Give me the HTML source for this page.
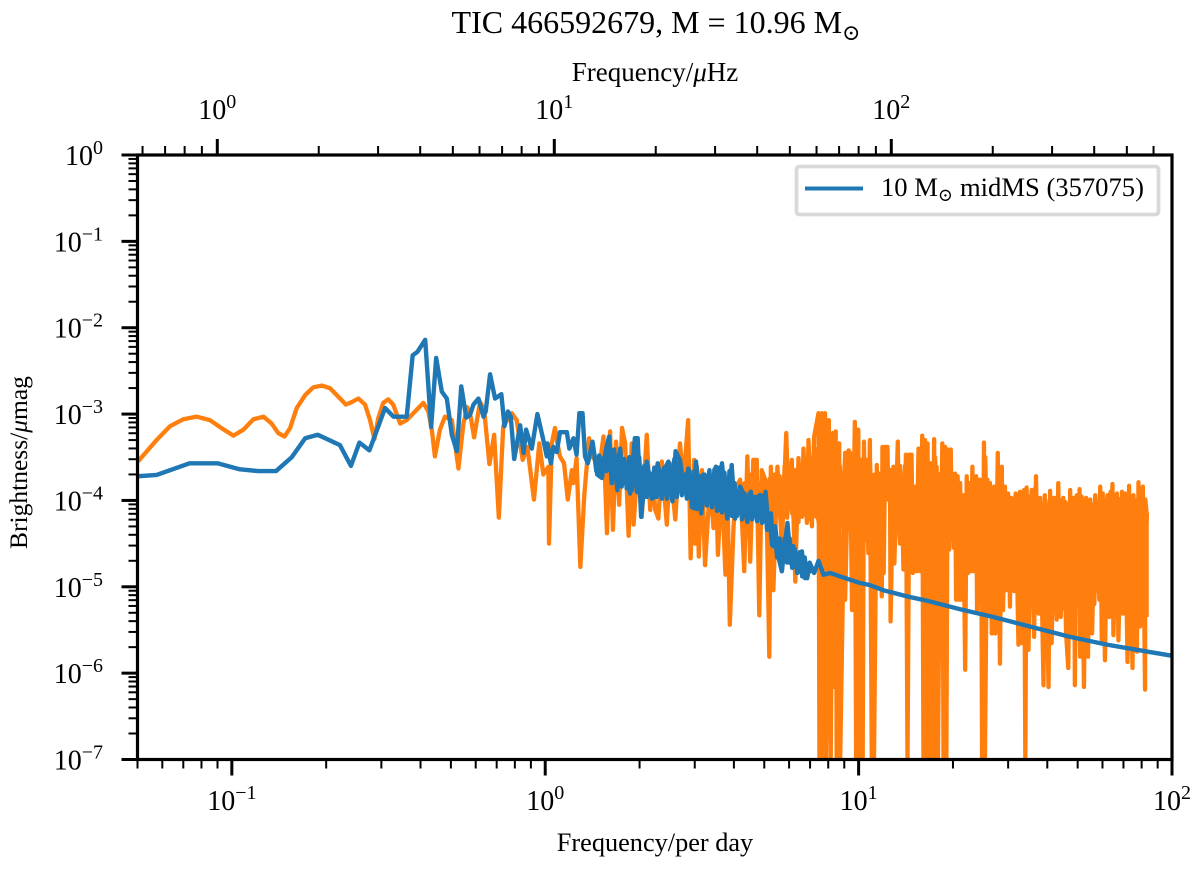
<!DOCTYPE html>
<html>
<head>
<meta charset="utf-8">
<title>TIC 466592679 spectrum</title>
<style>
html,body{margin:0;padding:0;background:#fff;}
svg{display:block;}
text{font-family:"Liberation Serif","DejaVu Serif",serif;fill:#000;}
</style>
</head>
<body>
<svg id="chart" width="1200" height="873" viewBox="0 0 1200 873" xmlns="http://www.w3.org/2000/svg">
  <defs><clipPath id="plot-clip"><rect x="137.5" y="155" width="1034.5" height="604.5"/></clipPath></defs>
  <text x="656" y="33" text-anchor="middle" font-size="32">TIC 466592679, M = 10.96 M<tspan font-size="22" dy="7">&#8857;</tspan></text>
  <text x="655" y="81" text-anchor="middle" font-size="27">Frequency/<tspan font-style="italic">&#956;</tspan>Hz</text>
  <text x="655" y="851" text-anchor="middle" font-size="26.3">Frequency/per day</text>
  <text transform="translate(27,462.5) rotate(-90)" text-anchor="middle" font-size="25.5">Brightness/<tspan font-style="italic">&#956;</tspan>mag</text>
  <g id="series" clip-path="url(#plot-clip)"></g>
  <g id="ticks"></g>
  <rect x="137.5" y="155" width="1034.5" height="604.5" fill="none" stroke="#000" stroke-width="3.2"/>
  <g>
    <rect x="796.5" y="166.5" width="362" height="48" rx="3" fill="#fff" stroke="#d9d9d9" stroke-width="3.8"/>
    <line x1="805" x2="863" y1="188.5" y2="188.5" stroke="#1f77b4" stroke-width="4"/>
    <text x="881" y="196" font-size="26.6">10 M<tspan font-size="18" dy="5">&#8857;</tspan><tspan dy="-5" dx="7">midMS (357075)</tspan></text>
  </g>
</svg>
<script>
const orangeLogFreqLow=[-1.301,-1.295,-1.240,-1.197,-1.155,-1.112,-1.070,-1.038,-0.995,-0.963,-0.931,-0.899,-0.873,-0.852,-0.832,-0.814,-0.793,-0.766,-0.740,-0.713,-0.687,-0.660,-0.636,-0.617,-0.596,-0.575,-0.559,-0.545,-0.533,-0.517,-0.501,-0.485,-0.463,-0.442,-0.410,-0.389,-0.373,-0.362,-0.352,-0.336,-0.320,-0.298,-0.277,-0.261,-0.249,-0.238,-0.227,-0.208,-0.195,-0.178,-0.163,-0.148,-0.134,-0.107,-0.091,-0.072,-0.057,-0.036,-0.019,-0.006,0.010];
const orangeLogAmpLow=[-3.55,-3.53,-3.30,-3.14,-3.06,-3.03,-3.07,-3.15,-3.25,-3.18,-3.06,-3.03,-3.11,-3.22,-3.26,-3.16,-2.93,-2.78,-2.69,-2.67,-2.70,-2.80,-2.89,-2.86,-2.82,-2.89,-3.07,-3.29,-3.05,-2.87,-2.83,-2.89,-3.11,-3.07,-2.95,-2.87,-2.97,-3.18,-3.49,-3.18,-3.03,-3.07,-3.63,-3.11,-2.92,-3.03,-3.27,-2.86,-2.95,-3.58,-3.24,-4.20,-3.14,-2.99,-3.07,-3.53,-3.38,-3.99,-3.34,-3.70,-3.61];

const orangeLogFreqMid=[0.012,0.021,0.031,0.039,0.047,0.060,0.072,0.085,0.090,0.100,0.112,0.125,0.140,0.148,0.159,0.173,0.186,0.197,0.207,0.216,0.226,0.236,0.245,0.255,0.266,0.276,0.282,0.294,0.308,0.324,0.335,0.343,0.351,0.361,0.372,0.388,0.398,0.415,0.430,0.441,0.456,0.464,0.475,0.478,0.484,0.490,0.500,0.510,0.526,0.537,0.544,0.551,0.563,0.575,0.581,0.589,0.601,0.611,0.622,0.635,0.645,0.654,0.664,0.675,0.679,0.683,0.691,0.702,0.708,0.715,0.720,0.728,0.741,0.755,0.769,0.776,0.787,0.798,0.808,0.819,0.824,0.835,0.840,0.851,0.858,0.872,0.875,0.883,0.886,0.893,0.896,0.905,0.911,0.918,0.920,0.927,0.930,0.938,0.941,0.957,0.957,0.968];
const orangeLogAmpMid=[-4.50,-3.34,-3.16,-3.34,-3.49,-3.57,-3.99,-3.65,-3.80,-3.51,-4.77,-3.92,-3.28,-3.49,-3.53,-3.61,-3.26,-4.38,-3.20,-4.34,-3.32,-4.05,-3.16,-3.34,-4.41,-3.34,-4.28,-3.61,-4.19,-3.24,-4.11,-3.69,-4.11,-4.21,-3.55,-4.28,-3.57,-4.22,-3.34,-3.80,-3.07,-4.67,-3.53,-4.50,-3.61,-4.65,-3.65,-4.75,-3.80,-4.32,-3.61,-4.63,-3.76,-4.86,-3.76,-5.44,-4.30,-3.84,-3.76,-4.82,-3.49,-4.71,-3.53,-3.53,-4.46,-5.33,-3.65,-3.76,-4.38,-5.81,-3.61,-5.04,-3.61,-4.53,-3.22,-3.99,-3.53,-4.94,-3.51,-4.19,-3.40,-4.26,-3.30,-4.30,-3.26,-2.99,-7.04,-2.99,-7.04,-2.99,-7.04,-3.07,-7.04,-3.22,-6.16,-3.20,-7.04,-3.34,-7.04,-3.45,-5.15,-3.42];

const orangeLogFreqHigh=[0.973,0.979,0.988,0.992,0.999,1.004,1.010,1.013,1.017,1.021,1.026,1.031,1.036,1.042,1.047,1.049,1.058,1.063,1.068,1.074,1.076,1.080,1.085,1.088,1.092,1.095,1.100,1.102,1.111,1.114,1.125,1.128,1.132,1.137,1.143,1.151,1.156,1.162,1.166,1.169,1.173,1.180,1.185,1.191,1.196,1.203,1.207,1.212,1.215,1.220,1.224,1.229,1.232,1.241,1.244,1.249,1.253,1.261,1.263,1.267,1.271,1.276,1.280,1.284,1.289,1.294,1.298,1.308,1.311,1.316,1.320,1.324,1.328,1.334,1.340,1.345,1.349,1.353,1.359,1.363,1.368,1.375,1.378,1.387,1.392,1.394,1.400,1.403,1.411,1.415,1.419,1.425,1.432,1.436,1.444,1.451,1.457,1.461,1.467,1.470,1.477,1.483,1.487,1.494,1.501,1.510,1.515,1.521,1.528,1.532,1.536,1.542,1.552,1.560,1.566,1.574,1.579,1.590,1.594,1.606,1.611,1.616,1.624,1.632,1.637,1.645,1.653,1.662,1.669,1.675,1.681,1.688,1.690,1.696,1.701,1.705,1.707,1.712,1.719,1.726,1.732,1.739,1.745,1.755,1.760,1.771,1.776,1.779,1.786,1.794,1.800,1.810,1.813,1.824,1.829,1.840,1.843,1.850,1.858,1.863,1.874,1.877,1.888,1.893,1.898,1.907,1.914,1.915,1.919,1.919];
const orangeLogAmpHigh=[-3.45,-5.27,-3.09,-7.04,-3.18,-7.04,-3.53,-7.04,-3.32,-4.46,-3.53,-4.61,-3.30,-7.04,-3.76,-7.04,-3.59,-5.00,-3.69,-5.11,-3.38,-4.84,-3.38,-3.99,-3.38,-3.99,-3.65,-5.40,-3.61,-4.73,-3.32,-4.19,-4.50,-3.76,-4.80,-3.47,-7.04,-3.47,-4.46,-3.47,-4.84,-3.84,-4.82,-3.40,-4.82,-3.25,-7.04,-3.30,-7.04,-3.34,-7.04,-3.57,-7.04,-3.29,-7.04,-3.61,-7.04,-3.69,-4.65,-3.34,-7.04,-3.38,-7.04,-3.41,-4.57,-3.41,-4.38,-3.69,-5.15,-3.72,-5.15,-3.80,-5.15,-3.94,-5.96,-3.72,-4.84,-3.80,-4.82,-3.61,-4.82,-3.72,-5.27,-3.76,-5.04,-7.04,-3.33,-7.04,-3.76,-5.31,-3.80,-5.54,-3.84,-5.54,-3.45,-5.89,-3.61,-5.27,-3.84,-5.04,-3.92,-5.23,-3.97,-5.00,-3.92,-5.67,-3.90,-5.65,-3.88,-7.04,-3.85,-5.73,-3.88,-5.58,-3.72,-5.31,-3.97,-6.14,-3.94,-6.16,-3.89,-5.65,-3.97,-5.38,-3.80,-5.35,-3.97,-5.54,-5.94,-3.88,-5.54,-3.97,-6.14,-3.94,-5.04,-3.87,-5.81,-3.96,-6.16,-3.97,-5.81,-3.99,-5.54,-3.94,-5.04,-3.84,-5.62,-3.92,-5.85,-3.94,-5.35,-3.81,-5.56,-3.92,-5.62,-3.90,-5.31,-3.92,-5.87,-3.83,-5.94,-3.94,-5.75,-3.79,-5.46,-3.84,-6.19,-3.99,-4.15,-5.35];

// Densely sampled part of the orange spectrum (the solid band).
const orangeLogFreqBand=[0.620,0.628,0.636,0.644,0.652,0.660,0.668,0.676,0.684,0.692,0.700,0.708,0.716,0.724,0.732,0.740,0.748,0.756,0.764,0.772,0.780,0.788,0.796,0.804,0.812,0.820,0.828,0.836,0.844,0.852,0.860,0.868,0.876,0.884,0.892,0.900,0.908,0.916,0.924,0.932,0.940,0.948,0.956,0.964,0.972,0.980,0.988,0.996,1.004,1.012,1.020,1.028,1.036,1.044,1.052,1.060,1.068,1.076,1.084,1.092,1.100,1.108,1.116,1.124,1.132,1.140,1.148,1.156,1.164,1.172,1.180,1.188,1.196,1.204,1.212,1.220,1.228,1.236,1.244,1.252,1.260,1.268,1.276,1.284,1.292,1.300,1.308,1.316,1.324,1.332,1.340,1.348,1.356,1.364,1.372,1.380,1.388,1.396,1.404,1.412,1.420,1.428,1.436,1.444,1.452,1.460,1.468,1.476,1.484,1.492,1.500,1.508,1.516,1.524,1.532,1.540,1.548,1.556,1.564,1.572,1.580,1.588,1.596,1.604,1.612,1.620,1.628,1.636,1.644,1.652,1.660,1.668,1.676,1.684,1.692,1.700,1.708,1.716,1.724,1.732,1.740,1.748,1.756,1.764,1.772,1.780,1.788,1.796,1.804,1.812,1.820,1.828,1.836,1.844,1.852,1.860,1.868,1.876,1.884,1.892,1.900,1.908,1.916];
const orangeLogAmpBand=[-3.85,-4.20,-3.80,-4.25,-3.70,-4.20,-3.72,-4.15,-3.80,-4.20,-3.85,-4.25,-3.75,-4.30,-3.70,-4.15,-3.72,-4.30,-3.60,-4.20,-3.70,-4.15,-3.65,-4.25,-3.60,-4.18,-3.55,-4.22,-3.50,-4.15,-3.40,-4.20,-3.30,-4.18,-3.40,-4.25,-3.45,-4.20,-3.55,-4.15,-3.60,-4.30,-3.55,-4.20,-3.60,-4.25,-3.50,-4.30,-3.60,-4.25,-3.55,-4.30,-3.50,-4.35,-3.70,-4.30,-3.75,-3.95,-3.60,-3.95,-3.70,-4.30,-3.70,-4.15,-3.60,-4.30,-3.60,-4.35,-3.65,-4.40,-3.90,-4.45,-3.55,-4.40,-3.45,-4.45,-3.65,-4.40,-3.50,-4.35,-3.75,-4.35,-3.55,-4.30,-3.60,-4.30,-3.80,-4.60,-3.85,-4.65,-3.98,-4.60,-3.90,-4.60,-3.80,-4.70,-3.85,-4.70,-3.50,-4.70,-3.90,-4.80,-3.95,-4.80,-3.70,-4.90,-3.95,-5.00,-4.00,-5.00,-3.98,-5.10,-3.95,-5.15,-3.95,-5.20,-3.95,-5.20,-3.85,-5.25,-4.02,-5.25,-4.00,-5.25,-3.95,-5.25,-4.02,-5.25,-4.00,-5.25,-4.02,-5.25,-3.95,-5.25,-4.00,-5.00,-3.95,-5.25,-4.02,-5.25,-4.02,-5.20,-4.00,-5.05,-3.90,-5.20,-4.00,-5.25,-3.90,-5.25,-4.00,-5.25,-3.98,-5.25,-4.00,-5.25,-3.95,-5.25,-4.00,-5.25,-3.95,-5.25,-4.10];

// Second run through the solid band, between the samples above.
const orangeLogFreqFill=[0.784,0.792,0.800,0.808,0.816,0.824,0.832,0.840,0.848,0.856,0.864,0.872,0.880,0.888,0.896,0.904,0.912,0.920,0.928,0.936,0.944,0.952,0.960,0.968,0.976,0.984,0.992,1.000,1.008,1.016,1.024,1.032,1.040,1.048,1.056,1.064,1.072,1.080,1.088,1.096,1.104,1.112,1.120,1.128,1.136,1.144,1.152,1.160,1.168,1.176,1.184,1.192,1.200,1.208,1.216,1.224,1.232,1.240,1.248,1.256,1.264,1.272,1.280,1.288,1.296,1.304,1.312,1.320,1.328,1.336,1.344,1.352,1.360,1.368,1.376,1.384,1.392,1.400,1.408,1.416,1.424,1.432,1.440,1.448,1.456,1.464,1.472,1.480,1.488,1.496,1.504,1.512,1.520,1.528,1.536,1.544,1.552,1.560,1.568,1.576,1.584,1.592,1.600,1.608,1.616,1.624,1.632,1.640,1.648,1.656,1.664,1.672,1.680,1.688,1.696,1.704,1.712,1.720,1.728,1.736,1.744,1.752,1.760,1.768,1.776,1.784,1.792,1.800,1.808,1.816,1.824,1.832,1.840,1.848,1.856,1.864,1.872,1.880,1.888,1.896,1.904,1.912,1.920];
const orangeLogAmpFill=[-3.80,-4.20,-3.75,-4.25,-3.70,-4.15,-3.65,-4.22,-3.60,-4.18,-3.55,-4.25,-3.55,-4.20,-3.60,-4.22,-3.65,-4.18,-3.60,-4.25,-3.70,-4.20,-3.65,-4.25,-3.70,-4.30,-3.65,-4.25,-3.70,-4.30,-3.65,-4.32,-3.70,-4.30,-3.75,-4.30,-3.80,-3.95,-3.75,-3.95,-3.80,-4.25,-3.75,-4.15,-3.75,-4.30,-3.70,-4.35,-3.75,-4.40,-3.95,-4.40,-3.70,-4.40,-3.60,-4.42,-3.70,-4.38,-3.70,-4.35,-3.80,-4.35,-3.70,-4.30,-3.75,-4.55,-3.95,-4.60,-3.95,-4.60,-4.00,-4.60,-3.95,-4.65,-3.95,-4.70,-3.95,-4.70,-3.90,-4.75,-4.00,-4.80,-4.00,-4.85,-3.90,-4.95,-4.02,-5.00,-4.05,-5.05,-4.05,-5.10,-4.02,-5.15,-4.02,-5.20,-4.02,-5.20,-3.98,-5.25,-4.05,-5.25,-4.05,-5.25,-4.02,-5.25,-4.05,-5.25,-4.05,-5.25,-4.05,-5.25,-4.02,-5.25,-4.05,-5.20,-4.02,-5.25,-4.05,-5.25,-4.05,-5.20,-4.05,-5.15,-4.00,-5.22,-4.05,-5.25,-4.00,-5.25,-4.05,-5.25,-4.02,-5.25,-4.05,-5.25,-4.02,-5.25,-4.05,-5.25,-4.02,-5.25,-4.15];

const blueLogFreq=[-1.301,-1.240,-1.135,-1.046,-0.974,-0.915,-0.859,-0.809,-0.766,-0.726,-0.655,-0.620,-0.593,-0.561,-0.511,-0.484,-0.442,-0.423,-0.408,-0.383,-0.364,-0.348,-0.330,-0.314,-0.298,-0.282,-0.268,-0.252,-0.240,-0.229,-0.213,-0.197,-0.190,-0.176,-0.160,-0.140,-0.130,-0.119,-0.110,-0.099,-0.080,-0.069,-0.061,-0.043,-0.025,-0.006,0.005,0.007,0.018,0.026,0.037,0.047,0.069,0.077,0.090,0.100,0.109,0.119,0.127,0.136,0.151,0.166,0.181,0.194,0.204,0.212,0.220,0.230,0.239,0.249,0.258,0.271,0.286,0.295,0.306,0.324,0.345,0.359,0.372,0.379,0.393,0.406,0.416,0.430,0.443,0.457,0.475,0.481,0.498,0.505,0.515,0.524,0.530,0.545,0.553,0.564,0.581,0.595,0.606,0.622,0.632,0.645,0.656,0.664,0.677,0.688,0.694,0.703,0.712,0.720,0.728,0.734,0.744,0.755,0.773,0.784,0.792,0.805,0.819,0.829,0.845,0.858,0.872,0.888,0.909,0.941,0.999,1.036,1.079,1.153,1.217,1.324,1.430,1.568,1.675,1.792,1.888,2.002];
const blueLogAmp=[-3.72,-3.705,-3.57,-3.57,-3.64,-3.66,-3.66,-3.50,-3.28,-3.24,-3.36,-3.60,-3.33,-3.42,-2.93,-3.03,-3.03,-2.32,-2.28,-2.14,-3.15,-2.35,-2.74,-2.82,-3.24,-3.43,-2.68,-3.04,-3.01,-2.89,-2.82,-3.03,-2.97,-2.54,-2.82,-2.77,-3.14,-2.97,-3.03,-3.52,-3.13,-3.45,-3.18,-3.40,-3.00,-3.30,-3.49,-3.34,-3.57,-3.38,-3.44,-3.21,-3.21,-3.40,-3.28,-3.47,-2.99,-2.99,-3.49,-3.57,-3.32,-3.70,-3.74,-3.41,-3.26,-3.80,-3.41,-3.88,-3.40,-3.80,-3.61,-3.92,-3.28,-3.28,-4.19,-3.55,-3.97,-3.57,-3.96,-3.65,-3.55,-4.01,-3.43,-3.53,-3.88,-3.63,-4.09,-3.55,-4.15,-3.70,-3.92,-3.65,-4.03,-3.61,-4.11,-3.57,-4.21,-3.59,-4.21,-3.84,-3.92,-4.25,-3.90,-4.15,-3.96,-3.94,-4.23,-3.90,-4.30,-4.15,-4.53,-4.30,-4.65,-4.82,-4.26,-4.73,-4.53,-4.84,-4.59,-4.90,-4.73,-4.84,-4.70,-4.86,-4.84,-4.88,-4.95,-4.98,-5.04,-5.11,-5.16,-5.26,-5.35,-5.48,-5.58,-5.67,-5.73,-5.80];

// Densely sampled part of the blue spectrum (the thick band).
const blueLogFreqBand=[0.155,0.163,0.172,0.180,0.188,0.196,0.204,0.212,0.220,0.228,0.236,0.244,0.252,0.260,0.268,0.276,0.284,0.292,0.300,0.308,0.316,0.324,0.332,0.340,0.348,0.356,0.364,0.372,0.380,0.388,0.396,0.404,0.412,0.420,0.428,0.436,0.444,0.452,0.460,0.468,0.476,0.484,0.492,0.500,0.508,0.516,0.524,0.532,0.540,0.548,0.556,0.564,0.572,0.580,0.588,0.596,0.604,0.612,0.620,0.628,0.636,0.644,0.652,0.660,0.668,0.676,0.684,0.692,0.700,0.708,0.716,0.724,0.732,0.740,0.748,0.756,0.764,0.772,0.780,0.788,0.796,0.804,0.812,0.820,0.828,0.836,0.844,0.852];
const blueLogAmpBand=[-3.42,-3.66,-3.48,-3.72,-3.50,-3.66,-3.30,-3.72,-3.44,-3.82,-3.46,-3.84,-3.52,-3.86,-3.50,-3.88,-3.35,-3.90,-3.50,-4.05,-3.60,-3.96,-3.68,-3.98,-3.62,-3.96,-3.64,-3.98,-3.62,-3.98,-3.58,-3.98,-3.52,-3.96,-3.56,-3.94,-3.70,-3.98,-3.66,-4.08,-3.66,-4.10,-3.72,-4.10,-3.70,-4.06,-3.68,-4.08,-3.64,-4.12,-3.62,-4.14,-3.68,-4.20,-3.66,-4.18,-3.80,-4.18,-3.88,-4.22,-3.92,-4.24,-3.92,-4.22,-3.96,-4.24,-3.94,-4.26,-3.96,-4.34,-4.20,-4.52,-4.34,-4.66,-4.44,-4.80,-4.44,-4.72,-4.44,-4.78,-4.56,-4.84,-4.60,-4.88,-4.66,-4.90,-4.72,-4.84];

const bottomMajorExponents=[-1,0,1,2];
const bottomMinorMultipliers=[2,3,4,5,6,7,8,9];
const topMajorExponents=[0,1,2];
const leftMajorExponents=[0,-1,-2,-3,-4,-5,-6,-7];

const PLOT={left:137.5,right:1172,top:155,bottom:759.5};
const X_LOG_MIN=-1.30103, X_LOG_MAX=2, Y_LOG_MIN=-7, Y_LOG_MAX=0;
function xAxis(logF){return PLOT.left+(logF-X_LOG_MIN)/(X_LOG_MAX-X_LOG_MIN)*(PLOT.right-PLOT.left);}
function yAxis(logA){return PLOT.bottom-(logA-Y_LOG_MIN)/(Y_LOG_MAX-Y_LOG_MIN)*(PLOT.bottom-PLOT.top);}
// Top axis: own log scale for frequency in microhertz.
function xTopAxis(logU){return 217.3+337*logU;}

const NS='http://www.w3.org/2000/svg';
const seriesG=document.getElementById('series');
const ticksG=document.getElementById('ticks');

function linePath(fr,am){
  let d='';
  const n=Math.min(fr.length,am.length);
  for(let i=0;i<n;i++){d+=(i?'L':'M')+xAxis(fr[i]).toFixed(2)+' '+yAxis(am[i]).toFixed(2);}
  return d;
}

const orangePath=document.createElementNS(NS,'path');


orangePath.setAttribute('d',linePath(orangeLogFreqLow.concat(orangeLogFreqMid,orangeLogFreqHigh),orangeLogAmpLow.concat(orangeLogAmpMid,orangeLogAmpHigh))+linePath(orangeLogFreqBand,orangeLogAmpBand)+linePath(orangeLogFreqFill,orangeLogAmpFill));
orangePath.setAttribute('fill','none');
orangePath.setAttribute('stroke','#ff7f0e');
orangePath.setAttribute('stroke-width','4.3');
orangePath.setAttribute('stroke-linejoin','round');
seriesG.appendChild(orangePath);

const bluePath=document.createElementNS(NS,'path');


bluePath.setAttribute('d',linePath(blueLogFreq,blueLogAmp)+linePath(blueLogFreqBand,blueLogAmpBand));
bluePath.setAttribute('fill','none');
bluePath.setAttribute('stroke','#1f77b4');
bluePath.setAttribute('stroke-width','4.4');
bluePath.setAttribute('stroke-linejoin','round');
seriesG.appendChild(bluePath);

function addTick(x1,y1,x2,y2,w){
  const t=document.createElementNS(NS,'line');
  
  
  t.setAttribute('x1',x1);t.setAttribute('y1',y1);t.setAttribute('x2',x2);t.setAttribute('y2',y2);
  t.setAttribute('stroke','#000');t.setAttribute('stroke-width',w);
  ticksG.appendChild(t);
}
function addLabel(x,y,anchor,exp){
  const t=document.createElementNS(NS,'text');
  
  
  t.setAttribute('x',x);t.setAttribute('y',y);
  t.setAttribute('text-anchor',anchor);
  t.setAttribute('font-size','28');
  t.appendChild(document.createTextNode('10'));
  const s=document.createElementNS(NS,'tspan');
  s.setAttribute('font-size','20');
  s.setAttribute('dy','-11');
  s.textContent=String(exp).replace('-','\u2212');
  t.appendChild(s);
  ticksG.appendChild(t);
}

// bottom axis
bottomMajorExponents.forEach(function(e){
  addTick(xAxis(e),PLOT.bottom,xAxis(e),PLOT.bottom+16,3);
  addLabel(xAxis(e),810,'middle',e);
});
[-2,-1,0,1].forEach(function(e){
  bottomMinorMultipliers.forEach(function(m){
    const v=e+Math.log10(m);
    if(v>=X_LOG_MIN-0.001&&v<=X_LOG_MAX){addTick(xAxis(v),PLOT.bottom,xAxis(v),PLOT.bottom+9,2);}
  });
});
// top axis
topMajorExponents.forEach(function(e){
  addTick(xTopAxis(e),PLOT.top,xTopAxis(e),PLOT.top-16,3);
  addLabel(xTopAxis(e),119,'middle',e);
});
[-1,0,1,2].forEach(function(e){
  bottomMinorMultipliers.forEach(function(m){
    const x=xTopAxis(e+Math.log10(m));
    if(x>=PLOT.left&&x<=PLOT.right){addTick(x,PLOT.top,x,PLOT.top-9,2);}
  });
});
// left axis
leftMajorExponents.forEach(function(e){
  addTick(PLOT.left,yAxis(e),PLOT.left-16,yAxis(e),3);
  addLabel(103,yAxis(e)+10,'end',e);
  if(e>Y_LOG_MIN){
    bottomMinorMultipliers.forEach(function(m){
      const v=e-1+Math.log10(m);
      addTick(PLOT.left,yAxis(v),PLOT.left-9,yAxis(v),2);
    });
  }
});
</script>
</body>
</html>
